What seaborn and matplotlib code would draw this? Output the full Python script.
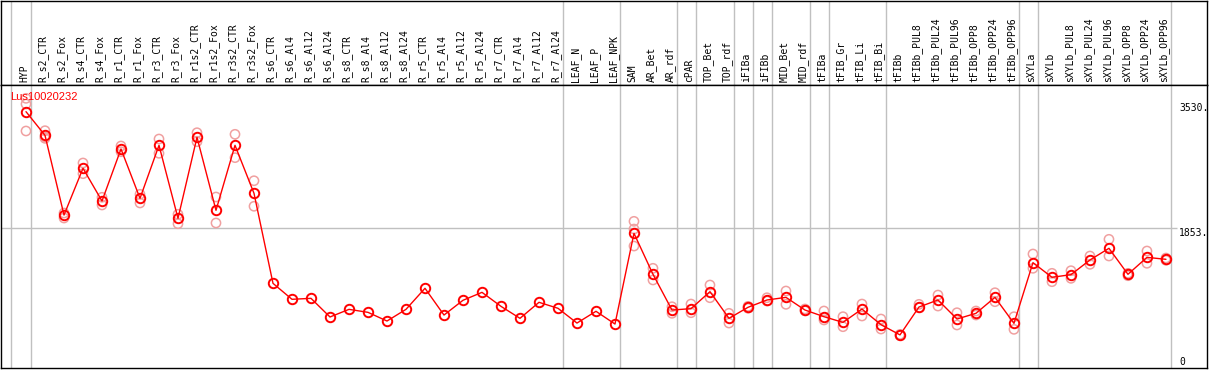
import numpy as np
import pandas as pd
import matplotlib
matplotlib.use("Agg")
import matplotlib.pyplot as plt
import seaborn as sns

# ------------------------------------------------------------
# data (Lus10020232)
# ------------------------------------------------------------
gene_id = "Lus10020232"

samples = [
    "HYP", "R_s2_CTR", "R_s2_Fox", "R_s4_CTR", "R_s4_Fox", "R_r1_CTR", "R_r1_Fox",
    "R_r3_CTR", "R_r3_Fox", "R_r1s2_CTR", "R_r1s2_Fox", "R_r3s2_CTR", "R_r3s2_Fox",
    "R_s6_CTR", "R_s6_Al4", "R_s6_Al12", "R_s6_Al24", "R_s8_CTR", "R_s8_Al4",
    "R_s8_Al12", "R_s8_Al24", "R_r5_CTR", "R_r5_Al4", "R_r5_Al12", "R_r5_Al24",
    "R_r7_CTR", "R_r7_Al4", "R_r7_Al12", "R_r7_Al24", "LEAF_N", "LEAF_P", "LEAF_NPK",
    "SAM", "AR_Bet", "AR_rdf", "cPAR", "TOP_Bet", "TOP_rdf", "iFIBa", "iFIBb",
    "MID_Bet", "MID_rdf", "tFIBa", "tFIB_Gr", "tFIB_Li", "tFIB_Bi", "tFIBb",
    "tFIBb_PUL8", "tFIBb_PUL24", "tFIBb_PUL96", "tFIBb_OPP8", "tFIBb_OPP24",
    "tFIBb_OPP96", "sXYLa", "sXYLb", "sXYLb_PUL8", "sXYLb_PUL24", "sXYLb_PUL96",
    "sXYLb_OPP8", "sXYLb_OPP24", "sXYLb_OPP96",
]

means = [
    3409, 3093, 2029, 2653, 2216, 2911, 2252, 2960, 1985, 3067, 2092, 2960, 2319,
    1117, 904, 917, 668, 770, 730, 614, 770, 1051, 694, 891, 997, 810, 650, 864, 784,
    587, 744, 574,
    1785, 1238, 761, 779, 1006, 650, 797, 895, 930, 761, 672, 596, 774, 565, 429,
    801, 895, 641, 717, 930, 583, 1393, 1198, 1233, 1429, 1585, 1238, 1464, 1438,
]

replicates = [
    [3587, 3511, 3151], [3155, 3053, 3070], [2056, 1989], [2724, 2581], [2266, 2163],
    [2951, 2874], [2306, 2190], [3044, 2853], [2039, 1913], [3128, 3008],
    [2270, 1923], [3107, 2795], [2487, 2146],
    [], [], [], [], [], [], [], [], [], [], [], [], [], [], [], [], [], [], [],
    [1945, 1842, 1615], [1318, 1162], [805, 717], [841, 725], [1095, 925], [717, 587],
    [810, 785], [925, 881], [1015, 837], [775, 750], [748, 628], [672, 538],
    [841, 681], [641, 507], [435, 420], [837, 792], [961, 814], [725, 561],
    [748, 694], [992, 872], [672, 503], [1509, 1318], [1251, 1139], [1286, 1184],
    [1482, 1371], [1705, 1482], [1251, 1219], [1549, 1385], [1455, 1425],
]

# separators are drawn right after these samples
group_ends = ["HYP", "R_r7_Al24", "LEAF_NPK", "AR_rdf", "cPAR", "TOP_rdf", "iFIBa",
              "iFIBb", "MID_rdf", "tFIBa", "tFIB_Bi", "tFIBb_OPP96", "sXYLa",
              "sXYLb_OPP96"]

ytick_values = [3530, 1853, 0]
ytick_labels = ["3530.", "1853.", "0"]

# ------------------------------------------------------------
# tables for seaborn
# ------------------------------------------------------------
df_mean = pd.DataFrame({"pos": np.arange(len(samples)), "sample": samples, "value": means})
rep_rows = [(i, v) for i, reps in enumerate(replicates) for v in reps]
df_rep = pd.DataFrame(rep_rows, columns=["pos", "value"])

sns.set_style("white")
plt.rcParams["font.family"] = ["DejaVu Sans Mono", "DejaVu Sans"]

W, H = 1209, 370
fig = plt.figure(figsize=(W / 100, H / 100), dpi=100)

left = 1 / W
width = 1206 / W
ax_lab = fig.add_axes([left, 1 - 85 / H, width, 84.5 / H])
ax = fig.add_axes([left, 2 / H, width, 283 / H])

xlim = (-1.316, 62.16)
for a in (ax, ax_lab):
    a.set_xlim(*xlim)
    a.set_xticks([])
    a.set_yticks([])
    for sp in a.spines.values():
        sp.set_color("black")
        sp.set_linewidth(1.0)
    a.set_facecolor("white")
ax_lab.set_ylim(0, 1)
ax.set_ylim(-13, 3765)

# gray separators between sample groups
sep_pos = [-0.8] + [samples.index(s) + 0.25 for s in group_ends]
for a in (ax, ax_lab):
    for p in sep_pos:
        a.axvline(p, color="#c0c0c0", linewidth=1.0, zorder=0)

# horizontal reference line at the middle tick
ax.hlines(ytick_values[1], xlim[0], 60.6, color="#c0c0c0", linewidth=1.0, zorder=0)

# replicate circles
sns.scatterplot(data=df_rep, x="pos", y="value", marker="o", s=44,
                facecolor="none", edgecolor="#f0a0a0", linewidth=1.1,
                ax=ax, zorder=2, legend=False)
for coll in ax.collections:
    coll.set_facecolor("none")

# mean line
sns.lineplot(data=df_mean, x="pos", y="value", color="red", linewidth=1.0,
             marker="o", markersize=6.8, markerfacecolor="none",
             markeredgecolor="red", markeredgewidth=1.4, ax=ax, zorder=3)
ax.set_xlabel("")
ax.set_ylabel("")
ax.set_xlim(*xlim)
ax.set_xticks([])
ax.set_yticks([])

# sample labels on top
for i, name in enumerate(samples):
    ax_lab.text(i - 0.1, 0.03, name, rotation=90, ha="center", va="bottom",
                fontsize=7, color="black")

# value labels on the right
for v, lab in zip(ytick_values, ytick_labels):
    ax.text(60.68, v, lab, ha="left", va="top" if v > 0 else "bottom",
            fontsize=7, color="black")

fig.text(10 / W, 1 - 97 / H, gene_id, color="red", fontsize=8,
         family="Liberation Sans", ha="left", va="center")

fig.savefig("out.png", dpi=100)
